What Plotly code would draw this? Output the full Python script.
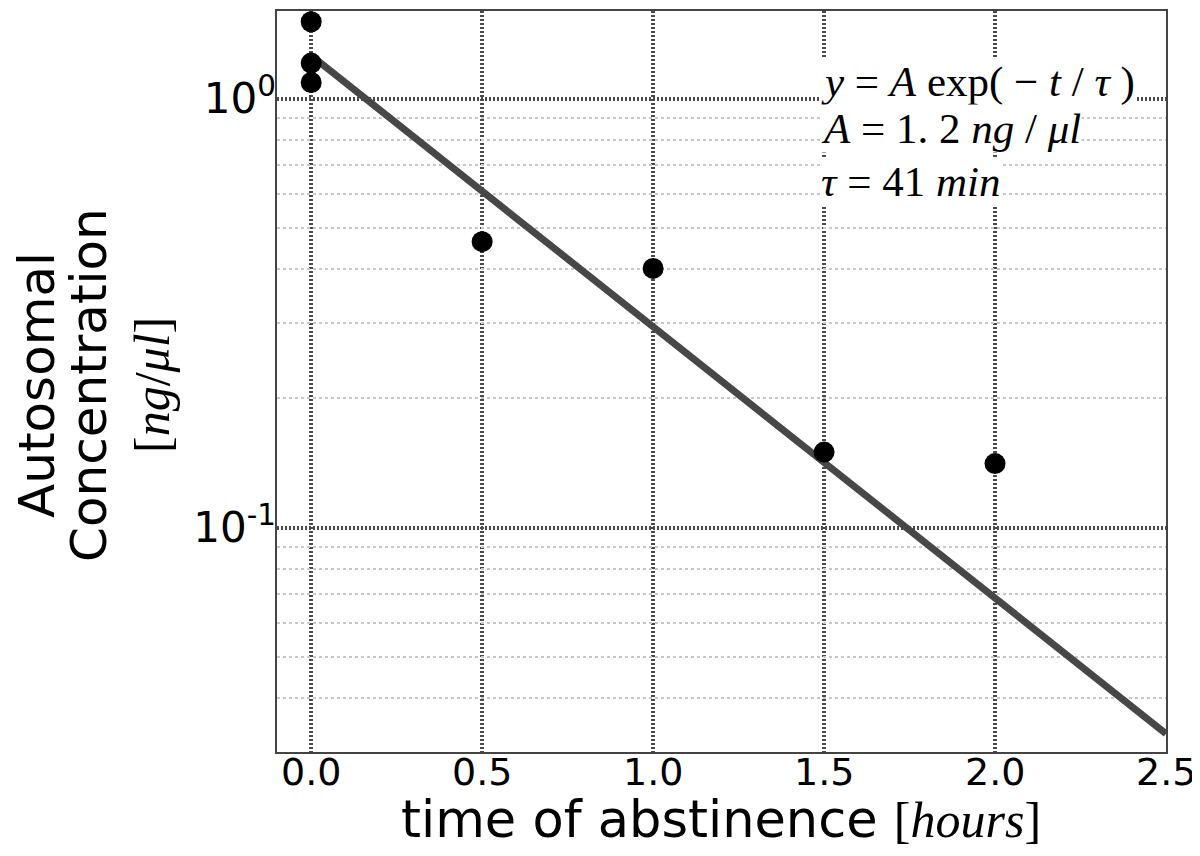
import numpy as np
import plotly.graph_objects as go

# measured data (hours, ng/ul)
t_points = [0.0, 0.0, 0.0, 0.5, 1.0, 1.5, 2.0]
c_points = [1.51, 1.21, 1.09, 0.464, 0.402, 0.150, 0.141]

# fitted exponential, read at its two ends
fit_t = [0.0, 2.5]
fit_c = [1.26, 0.0331]

x_ticks = [0.0, 0.5, 1.0, 1.5, 2.0, 2.5]
x_labels = ["0.0", "0.5", "1.0", "1.5", "2.0", "2.5"]
y_major = [0.1, 1.0]
y_major_labels = ["10<sup>-1</sup>", "10<sup>0</sup>"]
y_minor = [0.04, 0.05, 0.06, 0.07, 0.08, 0.09, 0.2, 0.3, 0.4, 0.5, 0.6, 0.7, 0.8, 0.9]

eq_lines = [
    "<i>y</i> = <i>A</i> exp( − <i>t</i> / <i>τ</i> )",
    "<i>A</i> = 1. 2 <i>ng</i> / <i>μl</i>",
    "<i>τ</i> = 41 <i>min</i>",
]

SANS = "DejaVu Sans"
SERIF = "Liberation Serif"

yrange = [np.log10(0.03), np.log10(1.6)]

# page body has an 8px margin: figure is sized to fit, positions measured on the page
OFF = 8
W, H = 1200 - OFF, 856 - OFF
L, R, T, B = 277 - OFF, 34, 1, 104
pw, ph = W - L - R, H - T - B

def px_x(px):
    return (px - OFF - L) / pw

def px_y(py):
    return 1 - (py - OFF - T) / ph

fig = go.Figure()
fig.add_trace(go.Scatter(x=fit_t, y=fit_c, mode="lines", yaxis="y",
                         line=dict(color="#474747", width=7), showlegend=False,
                         hoverinfo="skip"))
fig.add_trace(go.Scatter(x=t_points, y=c_points, mode="markers", yaxis="y2",
                         marker=dict(color="black", size=21), showlegend=False))

annotations = []
# x tick labels, placed on the x scale
for v, lab in zip(x_ticks, x_labels):
    annotations.append(dict(text=lab, xref="x", yref="paper", x=v, y=px_y(772),
                            xanchor="center", yanchor="middle", showarrow=False,
                            font=dict(family=SANS, size=38, color="black")))
# y title lines
for text, cx, font in [
    ("Autosomal", 37, dict(family=SANS, size=50, color="black")),
    ("Concentration", 89, dict(family=SANS, size=50, color="black")),
    ("[<i>ng</i>/<i>μl</i>]", 152, dict(family=SERIF, size=50, color="black")),
]:
    annotations.append(dict(text=text, xref="paper", yref="paper", x=px_x(cx), y=px_y(384),
                            xanchor="center", yanchor="middle", textangle=-90,
                            showarrow=False, font=font))
# x title
annotations.append(dict(
    text="time of abstinence <span style='font-family:Liberation Serif;font-size:50px'>[<i>hours</i>]</span>",
    xref="paper", yref="paper", x=px_x(721), y=px_y(820), xanchor="center", yanchor="middle",
    showarrow=False, font=dict(family=SANS, size=51, color="black")))
# equation box
for text, cy in zip(eq_lines, [80, 127, 180]):
    annotations.append(dict(text=text, xref="paper", yref="paper", x=px_x(820), y=px_y(cy),
                            xanchor="left", yanchor="middle", showarrow=False,
                            bgcolor="white", borderpad=0,
                            font=dict(family=SERIF, size=43, color="black")))

fig.update_layout(
    width=W, height=H,
    margin=dict(l=L, r=R, t=T, b=B),
    paper_bgcolor="white", plot_bgcolor="white",
    xaxis=dict(range=[-0.1, 2.5], tickvals=x_ticks, showticklabels=False,
               showgrid=True, gridcolor="#4a4a4a", gridwidth=4, griddash="2px,2px",
               zeroline=False, showline=True, mirror=True, linecolor="#444", linewidth=1.5,
               ticks=""),
    yaxis=dict(type="log", range=yrange, tickvals=y_minor, showticklabels=False,
               showgrid=True, gridcolor="#c8c8c8", gridwidth=1.5, griddash="3px,3px",
               zeroline=False, showline=True, mirror=True, linecolor="#444", linewidth=1.5,
               ticks=""),
    yaxis2=dict(type="log", range=yrange, overlaying="y", side="left",
                tickvals=y_major, ticktext=y_major_labels,
                showgrid=True, gridcolor="#4a4a4a", gridwidth=4, griddash="2px,2px",
                zeroline=False, showline=False, ticks="",
                tickfont=dict(family=SANS, size=42, color="black")),
    annotations=annotations,
)

fig.write_html("out.html")
